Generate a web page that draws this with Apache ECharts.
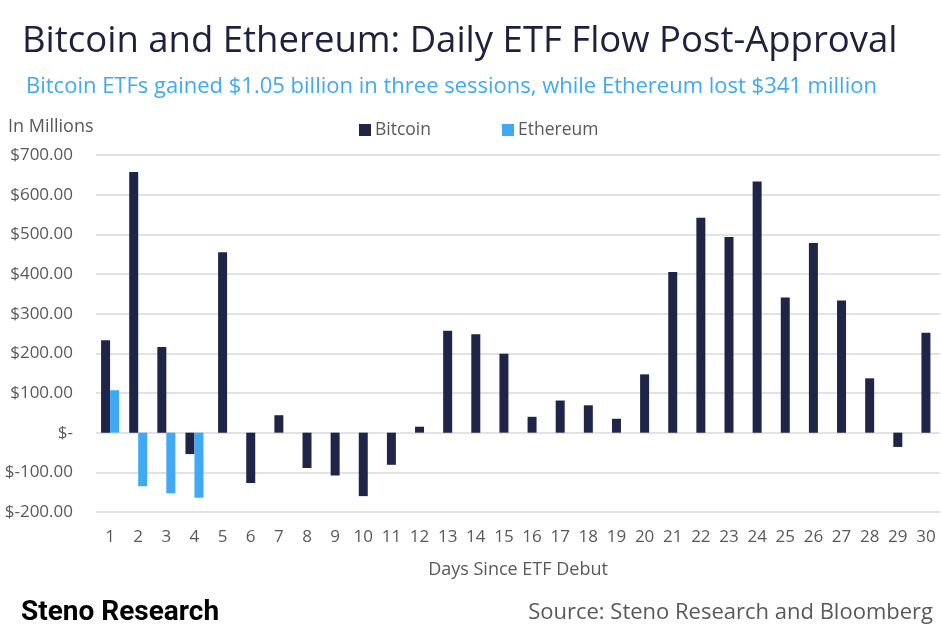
<!DOCTYPE html>
<html>
<head>
<meta charset="utf-8">
<script src="https://cdn.jsdelivr.net/npm/echarts@6/dist/echarts.min.js"></script>
<style>
html,body{margin:0;padding:0;background:#fff;}
#chart{width:941px;height:631px;}
</style>
</head>
<body>
<div id="chart"></div>
<script>
const days = ['1','2','3','4','5','6','7','8','9','10','11','12','13','14','15','16','17','18','19','20','21','22','23','24','25','26','27','28','29','30'];
const bitcoin = [233, 657, 216, -54, 455, -127, 44, -89, -108, -160, -81, 15, 257, 248, 199, 40, 81, 69, 35, 147, 405, 542, 493, 633, 341, 478, 333, 137, -36, 252];
const ethereum = [107, -135, -153, -164, null, null, null, null, null, null, null, null, null, null, null, null, null, null, null, null, null, null, null, null, null, null, null, null, null, null];
const yTicks = [-200, -100, 0, 100, 200, 300, 400, 500, 600, 700];

const btcPaired = bitcoin.map((v, i) => ethereum[i] != null ? v : null);
const btcSolo = bitcoin.map((v, i) => ethereum[i] != null ? null : v);

const NAVY = '#1f2548';
const BLUE = '#3fa9f5';
const GRAY = '#595959';
const FONT = '"Open Sans", "Noto Sans", sans-serif';

const chart = echarts.init(document.getElementById('chart'), null, {renderer: 'canvas'});
chart.setOption({
  animation: false,
  backgroundColor: '#ffffff',
  textStyle: {fontFamily: FONT},
  title: [
    {text: 'Bitcoin and Ethereum: Daily ETF Flow Post-Approval', left: 17, top: 18,
     textStyle: {fontFamily: FONT, fontSize: 36.5, fontWeight: 'normal', color: '#1f2040'}},
    {text: 'Bitcoin ETFs gained $1.05 billion in three sessions, while Ethereum lost $341 million', left: 21, top: 71,
     textStyle: {fontFamily: FONT, fontSize: 22, fontWeight: 'normal', color: BLUE}},
    {text: 'In Millions', left: 3, top: 113,
     textStyle: {fontFamily: FONT, fontSize: 18, fontWeight: 'normal', color: GRAY}},
    {text: 'Steno Research', left: 16, top: 594,
     textStyle: {fontFamily: 'Roboto, "Liberation Sans", sans-serif', fontSize: 28, fontWeight: 'bold', color: '#000'}},
    {text: 'Source: Steno Research and Bloomberg', right: 3, top: 597,
     textStyle: {fontFamily: FONT, fontSize: 22, fontWeight: 'normal', color: GRAY}}
  ],
  legend: {
    data: ['Bitcoin', 'Ethereum'],
    left: 354, top: 116,
    itemWidth: 12, itemHeight: 12, itemGap: 71,
    icon: 'rect',
    textStyle: {fontFamily: FONT, fontSize: 17.5, color: GRAY, padding: [0, 0, 0, -1]}
  },
  grid: {left: 96, right: 1, top: 155, bottom: 119, containLabel: false},
  xAxis: [
    {type: 'category', data: days, gridIndex: 0, position: 'bottom',
     axisLine: {show: false}, axisTick: {show: false},
     axisLabel: {fontFamily: FONT, fontSize: 17, color: GRAY, margin: 17, interval: 0},
     name: 'Days Since ETF Debut', nameLocation: 'middle', nameGap: 49,
     nameTextStyle: {fontFamily: FONT, fontSize: 18, color: GRAY}},
    {type: 'category', data: days, gridIndex: 0, position: 'bottom', show: false}
  ],
  yAxis: {
    type: 'value', min: -200, max: 700, interval: 100,
    axisLine: {show: false}, axisTick: {show: false},
    splitLine: {lineStyle: {color: '#d9d9d9', width: 1.5}},
    axisLabel: {fontFamily: FONT, fontSize: 17, color: GRAY, margin: 23,
      formatter: v => yTicks.includes(v) ? (v === 0 ? '$-' : '$' + v.toFixed(2)) : ''}
  },
  series: [
    {name: 'Bitcoin', type: 'bar', xAxisIndex: 0, data: btcPaired, barWidth: 9, barGap: '0%',
     itemStyle: {color: NAVY}},
    {name: 'Ethereum', type: 'bar', xAxisIndex: 0, data: ethereum, barWidth: 9, barGap: '0%',
     itemStyle: {color: BLUE}},
    {name: 'Bitcoin', type: 'bar', xAxisIndex: 1, data: btcSolo, barWidth: 9,
     itemStyle: {color: NAVY}}
  ]
});
</script>
</body>
</html>
